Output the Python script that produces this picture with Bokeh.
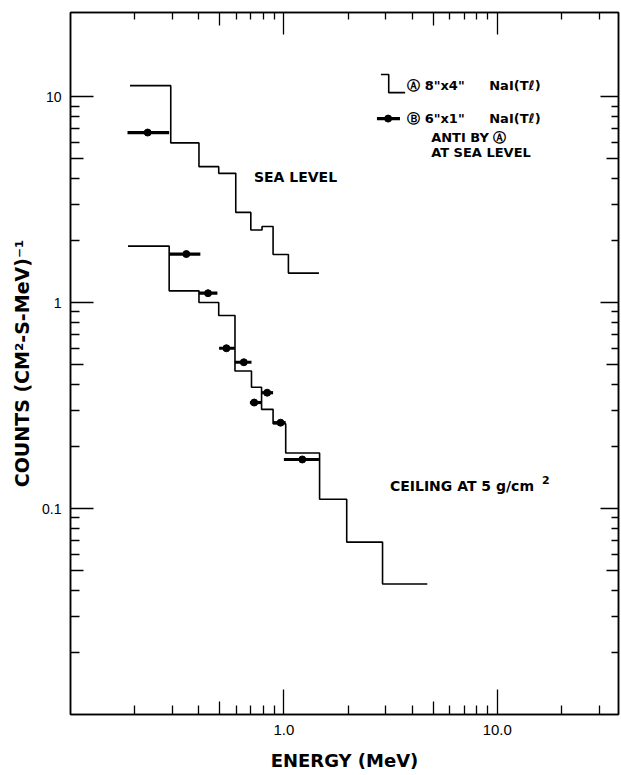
from bokeh.plotting import figure
from bokeh.models import LogAxis, FixedTicker, Label, CustomJSTickFormatter
from bokeh.embed import file_html
from bokeh.resources import INLINE

# ---------------- data ----------------
# Detector A (8"x4" NaI), histogram bin edges (MeV) and counts (cm^2-s-MeV)^-1
sea_edges = [0.19, 0.295, 0.40, 0.495, 0.595, 0.70, 0.79, 0.89, 1.05, 1.46]
sea_counts = [11.3, 5.96, 4.57, 4.24, 2.74, 2.25, 2.34, 1.71, 1.39]
ceil_edges = [0.186, 0.29, 0.40, 0.495, 0.59, 0.705, 0.786, 0.89, 1.02, 1.47, 1.97, 2.9, 4.7]
ceil_counts = [1.88, 1.14, 1.0, 0.865, 0.465, 0.388, 0.303, 0.258, 0.186, 0.111, 0.0687, 0.043]

# Detector B (6"x1" NaI) points with energy-bin bars
sea_b_energy = [0.23]
sea_b_lo = [0.185]
sea_b_hi = [0.29]
sea_b_counts = [6.69]
ceil_b_energy = [0.349, 0.441, 0.538, 0.649, 0.726, 0.835, 0.965, 1.22]
ceil_b_lo = [0.29, 0.40, 0.497, 0.589, 0.693, 0.786, 0.89, 1.0]
ceil_b_hi = [0.406, 0.488, 0.589, 0.705, 0.786, 0.89, 1.02, 1.46]
ceil_b_counts = [1.72, 1.11, 0.600, 0.513, 0.327, 0.365, 0.261, 0.173]

# axes
x_range = (0.1, 37.0)
y_range = (0.01, 25.6)
x_major_ticks = [1.0, 10.0]
x_tick_labels = ["1.0", "10.0"]
x_mid_ticks = [0.5, 5.0]
x_minor_ticks = [0.2, 0.3, 0.4, 0.6, 0.7, 0.8, 0.9, 2, 3, 4, 6, 7, 8, 9, 20, 30]
y_major_ticks = [0.1, 1.0, 10.0]
y_tick_labels = ["0.1", "1", "10"]
y_mid_ticks = [0.05, 0.5, 5.0]
y_minor_ticks = [0.02, 0.03, 0.04, 0.06, 0.07, 0.08, 0.09,
                 0.2, 0.3, 0.4, 0.6, 0.7, 0.8, 0.9,
                 2, 3, 4, 6, 7, 8, 9]

BOLD = "DejaVu Sans"
PLAIN = "Liberation Sans"

p = figure(width=621, height=775, x_axis_type="log", y_axis_type="log",
           x_range=x_range, y_range=y_range,
           x_axis_location=None, y_axis_location=None,
           toolbar_location=None, output_backend="svg",
           min_border_left=70, min_border_right=3, min_border_top=12, min_border_bottom=61)
p.grid.visible = False
p.outline_line_color = "black"
p.outline_line_width = 1.5
p.background_fill_color = "white"
p.border_fill_color = "white"

blank = CustomJSTickFormatter(code="return '';")


def labeled(tick_values, tick_texts):
    return CustomJSTickFormatter(args=dict(tv=tick_values, tt=tick_texts), code="""
        let out = '';
        for (let i = 0; i < tv.length; i++) {
            if (Math.abs(Math.log10(tv[i]) - Math.log10(tick)) < 1e-6) { out = tt[i]; }
        }
        return out;
    """)


def make_axis(major, minor, major_in, minor_in, formatter, show_line=False):
    ax = LogAxis(ticker=FixedTicker(ticks=major, minor_ticks=minor), formatter=formatter)
    ax.major_tick_in = major_in
    ax.major_tick_out = 0
    ax.minor_tick_in = minor_in
    ax.minor_tick_out = 0
    ax.major_tick_line_color = "black"
    ax.minor_tick_line_color = "black"
    ax.major_tick_line_width = 1.3
    ax.minor_tick_line_width = 1.3
    ax.axis_line_color = "black" if show_line else None
    ax.axis_line_width = 1.5
    return ax


# bottom: mid ticks (zero size) then labeled axis
mid_b = make_axis(x_mid_ticks, [], 13, 0, blank)
mid_b.major_label_standoff = 0
p.add_layout(mid_b, "below")
xb = make_axis(x_major_ticks, x_minor_ticks, 25, 9, labeled(x_major_ticks, x_tick_labels), True)
xb.major_label_standoff = 10
xb.major_label_text_font = PLAIN
xb.major_label_text_font_size = "15px"
xb.major_label_text_color = "black"
xb.axis_label = "ENERGY (MeV)"
xb.axis_label_text_font = BOLD
xb.axis_label_text_font_style = "bold"
xb.axis_label_text_font_size = "18px"
xb.axis_label_text_color = "black"
xb.axis_label_standoff = 12
p.add_layout(xb, "below")

# top
mid_t = make_axis(x_mid_ticks, [], 13, 0, blank)
mid_t.major_label_standoff = 0
p.add_layout(mid_t, "above")
xt = make_axis(x_major_ticks, x_minor_ticks, 22, 7, blank, True)
xt.major_label_standoff = 0
p.add_layout(xt, "above")

# left
mid_l = make_axis(y_mid_ticks, [], 13, 0, blank)
mid_l.major_label_standoff = 0
p.add_layout(mid_l, "left")
yl = make_axis(y_major_ticks, y_minor_ticks, 23, 9, labeled(y_major_ticks, y_tick_labels), True)
yl.major_label_standoff = 9
yl.major_label_orientation = "horizontal"
yl.major_label_text_font = PLAIN
yl.major_label_text_font_size = "14px"
yl.major_label_text_color = "black"
yl.axis_label = "COUNTS (CM\u00b2-S-MeV)\u207b\u00b9"
yl.axis_label_text_font = BOLD
yl.axis_label_text_font_style = "bold"
yl.axis_label_text_font_size = "19px"
yl.axis_label_text_color = "black"
yl.axis_label_standoff = 6
p.add_layout(yl, "left")

# right
mid_r = make_axis(y_mid_ticks, [], 12, 0, blank)
mid_r.major_label_standoff = 0
p.add_layout(mid_r, "right")
yr = make_axis(y_major_ticks, y_minor_ticks, 18, 7, blank, True)
yr.major_label_standoff = 0
p.add_layout(yr, "right")

# ---------------- detector A histograms ----------------
p.step(x=sea_edges, y=sea_counts + [sea_counts[-1]], mode="after",
       line_color="black", line_width=1.6)
p.step(x=ceil_edges, y=ceil_counts + [ceil_counts[-1]], mode="after",
       line_color="black", line_width=1.6)

# ---------------- detector B points ----------------
for en, lo, hi, ct in [(sea_b_energy, sea_b_lo, sea_b_hi, sea_b_counts),
                       (ceil_b_energy, ceil_b_lo, ceil_b_hi, ceil_b_counts)]:
    p.segment(x0=lo, x1=hi, y0=ct, y1=ct, line_color="black", line_width=3.2)
    p.scatter(x=en, y=ct, marker="circle", size=7, fill_color="black", line_color="black")

# ---------------- legend (hand drawn style) ----------------
p.line(x=[2.85, 3.10, 3.10, 3.70], y=[12.8, 12.8, 10.45, 10.45], line_color="black", line_width=1.6)
p.segment(x0=[2.73], x1=[3.50], y0=[7.82], y1=[7.82], line_color="black", line_width=3.2)
p.scatter(x=[3.08], y=[7.82], marker="circle", size=7, fill_color="black", line_color="black")


def add_text(x, y, text, size="13px", font=BOLD, style="bold", align="left"):
    p.add_layout(Label(x=x, y=y, text=text, text_font=font, text_font_style=style,
                       text_font_size=size, text_color="black",
                       text_align=align, text_baseline="middle"))


add_text(3.78, 11.3, "\u24b6 8\"x4\"")
add_text(9.17, 11.3, "NaI(T\u2113)")
add_text(3.78, 7.82, "\u24b7 6\"x1\"")
add_text(9.17, 7.82, "NaI(T\u2113)")
add_text(4.90, 6.33, "ANTI BY \u24b6")
add_text(4.90, 5.35, "AT SEA LEVEL")

add_text(0.724, 4.09, "SEA LEVEL", size="14px")
add_text(3.14, 0.129, "CEILING AT 5 g/cm", size="14px")
add_text(16.2, 0.137, "2", size="11px")

open("out.html", "w").write(file_html(p, INLINE))
